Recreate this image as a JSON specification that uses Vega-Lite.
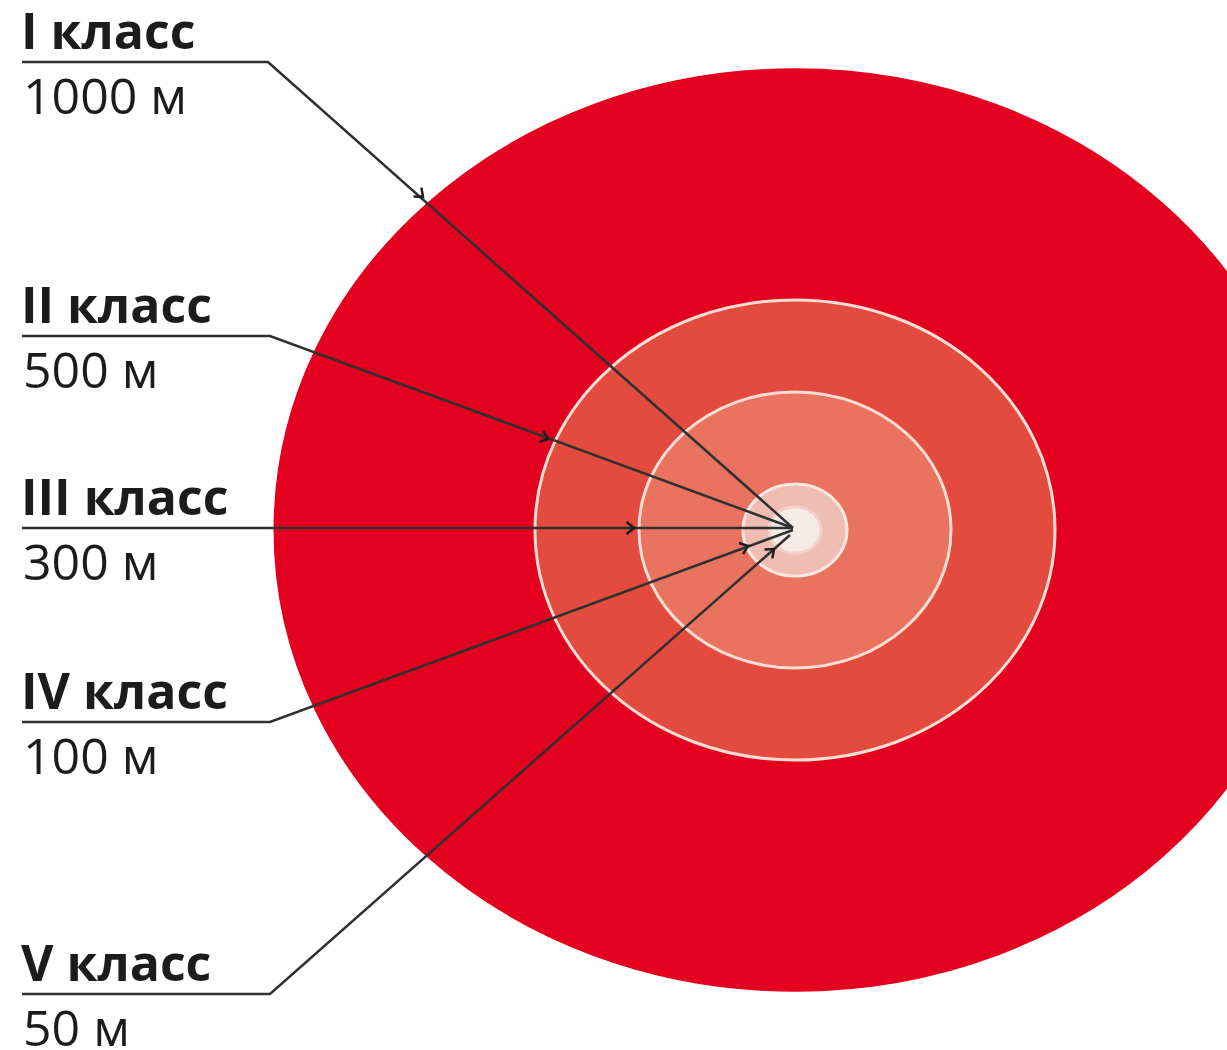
{
  "$schema": "https://vega.github.io/schema/vega-lite/v6.json",
  "width": 1227,
  "height": 1050,
  "autosize": {"type": "none"},
  "padding": 0,
  "background": "white",
  "config": {"view": {"stroke": null}},
  "datasets": {
    "zones": [
      {"zone": "I", "cls": "I класс", "dist": 1000, "label": "1000 м", "ly": 62},
      {"zone": "II", "cls": "II класс", "dist": 500, "label": "500 м", "ly": 336},
      {"zone": "III", "cls": "III класс", "dist": 300, "label": "300 м", "ly": 528},
      {"zone": "IV", "cls": "IV класс", "dist": 100, "label": "100 м", "ly": 722},
      {"zone": "V", "cls": "V класс", "dist": 50, "label": "50 м", "ly": 994}
    ],
    "leaders": [
      {"zone": "I", "o": 0, "x": 22, "y": 62},
      {"zone": "I", "o": 1, "x": 268, "y": 62},
      {"zone": "I", "o": 2, "x": 793, "y": 528},
      {"zone": "II", "o": 0, "x": 22, "y": 336},
      {"zone": "II", "o": 1, "x": 270, "y": 336},
      {"zone": "II", "o": 2, "x": 793, "y": 528},
      {"zone": "III", "o": 0, "x": 22, "y": 528},
      {"zone": "III", "o": 1, "x": 270, "y": 528},
      {"zone": "III", "o": 2, "x": 793, "y": 528},
      {"zone": "IV", "o": 0, "x": 22, "y": 722},
      {"zone": "IV", "o": 1, "x": 270, "y": 722},
      {"zone": "IV", "o": 2, "x": 793, "y": 530},
      {"zone": "V", "o": 0, "x": 22, "y": 994},
      {"zone": "V", "o": 1, "x": 270, "y": 994},
      {"zone": "V", "o": 2, "x": 790, "y": 535}
    ],
    "arrows": [
      {"zone": "I", "x": 423, "y": 197, "dir": 41.6},
      {"zone": "II", "x": 548, "y": 439, "dir": 20.2},
      {"zone": "III", "x": 634, "y": 528, "dir": 0},
      {"zone": "IV", "x": 748, "y": 546, "dir": -20.2},
      {"zone": "V", "x": 774, "y": 549, "dir": -41.4}
    ]
  },
  "layer": [
    {
      "data": {"name": "zones"},
      "mark": {
        "type": "point",
        "shape": "M 1 0 C 1 0.4888 0.5523 0.885 0 0.885 C -0.5523 0.885 -1 0.4888 -1 0 C -1 -0.4888 -0.5523 -0.885 0 -0.885 C 0.5523 -0.885 1 -0.4888 1 0 Z",
        "filled": true,
        "opacity": 1,
        "strokeWidth": 3
      },
      "encoding": {
        "x": {"datum": 795, "type": "quantitative", "scale": {"domain": [0, 1227], "nice": false, "zero": false}, "axis": null},
        "y": {"datum": 530, "type": "quantitative", "scale": {"domain": [0, 1050], "nice": false, "zero": false, "reverse": true}, "axis": null},
        "size": {"field": "dist", "type": "quantitative", "scale": {"type": "pow", "exponent": 2, "domain": [0, 1000], "range": [0, 1081600]}, "legend": null},
        "fill": {"field": "zone", "type": "nominal", "scale": {"domain": ["I", "II", "III", "IV", "V"], "range": ["#e4001f", "#e24b3d", "#e9735f", "#f0bdb3", "#f7ebe6"]}, "legend": null},
        "stroke": {"field": "zone", "type": "nominal", "scale": {"domain": ["I", "II", "III", "IV", "V"], "range": ["#e4001f", "#f7ddd3", "#f7ddd3", "#f8e6e0", "#f2d2ca"]}, "legend": null},
        "order": {"field": "dist", "type": "quantitative", "sort": "descending"}
      }
    },
    {
      "data": {"name": "leaders"},
      "mark": {"type": "line", "color": "#303030", "strokeWidth": 2.5},
      "encoding": {
        "x": {"field": "x", "type": "quantitative", "scale": {"domain": [0, 1227], "nice": false, "zero": false}, "axis": null},
        "y": {"field": "y", "type": "quantitative", "scale": {"domain": [0, 1050], "nice": false, "zero": false, "reverse": true}, "axis": null},
        "detail": {"field": "zone", "type": "nominal"},
        "order": {"field": "o", "type": "quantitative"}
      }
    },
    {
      "data": {"name": "arrows"},
      "mark": {
        "type": "point",
        "shape": "M -1 -0.8 L 0 0 L -1 0.8",
        "filled": false,
        "opacity": 1,
        "stroke": "#1e1e1e",
        "strokeWidth": 2.5,
        "size": 220
      },
      "encoding": {
        "x": {"field": "x", "type": "quantitative", "scale": {"domain": [0, 1227], "nice": false, "zero": false}, "axis": null},
        "y": {"field": "y", "type": "quantitative", "scale": {"domain": [0, 1050], "nice": false, "zero": false, "reverse": true}, "axis": null},
        "angle": {"field": "dir", "type": "quantitative", "scale": null}
      }
    },
    {
      "data": {"name": "zones"},
      "mark": {"type": "text", "align": "left", "baseline": "alphabetic", "font": "Open Sans", "fontWeight": "bold", "fontSize": 50, "dy": -13, "color": "#1c1c1c"},
      "encoding": {
        "x": {"datum": 21, "type": "quantitative", "scale": {"domain": [0, 1227], "nice": false, "zero": false}, "axis": null},
        "y": {"field": "ly", "type": "quantitative", "scale": {"domain": [0, 1050], "nice": false, "zero": false, "reverse": true}, "axis": null},
        "text": {"field": "cls", "type": "nominal"}
      }
    },
    {
      "data": {"name": "zones"},
      "mark": {"type": "text", "align": "left", "baseline": "alphabetic", "font": "Open Sans", "fontWeight": "normal", "fontSize": 50, "dy": 52, "color": "#1c1c1c"},
      "encoding": {
        "x": {"datum": 23, "type": "quantitative", "scale": {"domain": [0, 1227], "nice": false, "zero": false}, "axis": null},
        "y": {"field": "ly", "type": "quantitative", "scale": {"domain": [0, 1050], "nice": false, "zero": false, "reverse": true}, "axis": null},
        "text": {"field": "label", "type": "nominal"}
      }
    }
  ]
}
